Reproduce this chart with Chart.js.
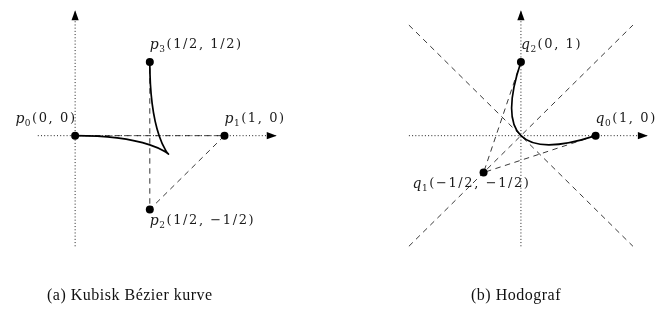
<!DOCTYPE html>
<html><head><meta charset="utf-8">
<script src="https://cdn.jsdelivr.net/npm/chart.js@4"></script>
<style>
html,body{margin:0;padding:0;background:#fff;}
#wrap{position:relative;width:658px;height:324px;overflow:hidden;}
canvas{position:absolute;left:0;top:0;}
.cap{position:absolute;top:286px;font-family:"Liberation Serif",serif;font-size:16px;letter-spacing:0.5px;color:#111;white-space:nowrap;}
</style></head><body>
<div id="wrap"><canvas id="c" width="658" height="324"></canvas>
<div class="cap" style="left:47px">(a) Kubisk Bézier kurve</div>
<div class="cap" style="left:471px">(b) Hodograf</div>
</div>
<script>
// ---- data ----
const bezierNames = ['p', 'p', 'p', 'p'];
const bezierSubs = ['0', '1', '2', '3'];
const bezierX = [0, 1, 0.5, 0.5];
const bezierY = [0, 0, -0.5, 0.5];
const bezierCoordText = ['(0, 0)', '(1, 0)', '(1/2, \u22121/2)', '(1/2, 1/2)'];

const hodoNames = ['q', 'q', 'q'];
const hodoSubs = ['0', '1', '2'];
const hodoX = [1, -0.5, 0];
const hodoY = [0, -0.5, 1];
const hodoCoordText = ['(1, 0)', '(\u22121/2, \u22121/2)', '(0, 1)'];

const leftAxisX = [-0.25, 1.35];
const leftAxisY = [-0.75, 0.85];
const rightAxisX = [-1.5, 1.7];
const rightAxisY = [-1.5, 1.7];
const diagRange = [-1.5, 1.5];

// ---- styles / placement (not data) ----
const bezierAnchor = ['aboveLeft', 'aboveRight', 'belowRight', 'aboveRight'];
const hodoAnchor = ['aboveRight', 'belowCenter', 'aboveRight'];

const pts = (xs, ys) => xs.map((x, i) => ({x: x, y: ys[i]}));
const DOT = [1, 2.2];
const DASH = [5.5, 4.5];
const lineDS = (data, xID, yID, dash, color) => ({
  data: data, xAxisID: xID, yAxisID: yID, showLine: true, pointRadius: 0,
  borderColor: color, borderWidth: 1, borderDash: dash, fill: false
});

const datasets = [
  lineDS([{x: leftAxisX[0], y: 0}, {x: leftAxisX[1], y: 0}], 'xL', 'yL', DOT, '#222'),
  lineDS([{x: 0, y: leftAxisY[0]}, {x: 0, y: leftAxisY[1]}], 'xL', 'yL', DOT, '#222'),
  lineDS(pts(bezierX, bezierY), 'xL', 'yL', DASH, '#3a3a3a'),
  lineDS([{x: rightAxisX[0], y: 0}, {x: rightAxisX[1], y: 0}], 'xR', 'yR', DOT, '#222'),
  lineDS([{x: 0, y: rightAxisY[0]}, {x: 0, y: rightAxisY[1]}], 'xR', 'yR', DOT, '#222'),
  lineDS([{x: diagRange[0], y: diagRange[0]}, {x: diagRange[1], y: diagRange[1]}], 'xR', 'yR', DASH, '#3a3a3a'),
  lineDS([{x: diagRange[0], y: -diagRange[0]}, {x: diagRange[1], y: -diagRange[1]}], 'xR', 'yR', DASH, '#3a3a3a'),
  lineDS(pts(hodoX, hodoY), 'xR', 'yR', DASH, '#3a3a3a'),
  {data: pts(bezierX, bezierY), xAxisID: 'xL', yAxisID: 'yL', showLine: false,
   pointRadius: 4, pointBackgroundColor: '#000', pointBorderWidth: 0, order: -1},
  {data: pts(hodoX, hodoY), xAxisID: 'xR', yAxisID: 'yR', showLine: false,
   pointRadius: 4, pointBackgroundColor: '#000', pointBorderWidth: 0, order: -1}
];

function px(chart, xs, ys, xID, yID) {
  const sx = chart.scales[xID], sy = chart.scales[yID];
  return xs.map((x, i) => [sx.getPixelForValue(x), sy.getPixelForValue(ys[i])]);
}

const curvePlugin = {
  id: 'curves',
  afterDatasetsDraw(chart) {
    const ctx = chart.ctx;
    ctx.save();
    ctx.strokeStyle = '#000';
    ctx.lineWidth = 1.7;
    const P = px(chart, bezierX, bezierY, 'xL', 'yL');
    ctx.beginPath();
    ctx.moveTo(P[0][0], P[0][1]);
    ctx.bezierCurveTo(P[1][0], P[1][1], P[2][0], P[2][1], P[3][0], P[3][1]);
    ctx.stroke();
    const Q = px(chart, hodoX, hodoY, 'xR', 'yR');
    ctx.beginPath();
    ctx.moveTo(Q[0][0], Q[0][1]);
    ctx.quadraticCurveTo(Q[1][0], Q[1][1], Q[2][0], Q[2][1]);
    ctx.stroke();
    ctx.restore();
  }
};

function arrow(ctx, x, y, dir) {
  const L = 10, W = 3.6;
  ctx.beginPath();
  if (dir === 'right') {
    ctx.moveTo(x, y); ctx.lineTo(x - L, y - W); ctx.lineTo(x - L, y + W);
  } else {
    ctx.moveTo(x, y); ctx.lineTo(x - W, y + L); ctx.lineTo(x + W, y + L);
  }
  ctx.closePath();
  ctx.fill();
}

const arrowPlugin = {
  id: 'arrows',
  afterDatasetsDraw(chart) {
    const ctx = chart.ctx;
    ctx.save();
    ctx.fillStyle = '#000';
    const xL = chart.scales.xL, yL = chart.scales.yL, xR = chart.scales.xR, yR = chart.scales.yR;
    arrow(ctx, xL.getPixelForValue(leftAxisX[1]), yL.getPixelForValue(0), 'right');
    arrow(ctx, xL.getPixelForValue(0), yL.getPixelForValue(leftAxisY[1]), 'up');
    arrow(ctx, xR.getPixelForValue(rightAxisX[1]), yR.getPixelForValue(0), 'right');
    arrow(ctx, xR.getPixelForValue(0), yR.getPixelForValue(rightAxisY[1]), 'up');
    ctx.restore();
  }
};

const F_MAIN = 'italic 14px "DejaVu Serif", serif';
const F_SUB = '9px "DejaVu Serif", serif';
const F_COORD = '13px "DejaVu Serif", serif';
const COORD_SPACING = '1.6px';

function drawLabel(ctx, x, y, name, sub, coord, anchor) {
  ctx.letterSpacing = '0px';
  ctx.font = F_MAIN; const w1 = ctx.measureText(name).width + 0.5;
  ctx.font = F_SUB; const w2 = ctx.measureText(sub).width + 1.5;
  ctx.font = F_COORD; ctx.letterSpacing = COORD_SPACING; const w3 = ctx.measureText(coord).width;
  ctx.letterSpacing = '0px';
  const w = w1 + w2 + w3;
  let sx, by;
  if (anchor === 'aboveLeft') { sx = x - w + 1.5; by = y - 13; }
  else if (anchor === 'aboveRight') { sx = x; by = y - 13; }
  else if (anchor === 'belowRight') { sx = x; by = y + 16; }
  else { sx = x - w / 2 - 12; by = y + 15; }
  ctx.textBaseline = 'alphabetic';
  ctx.textAlign = 'left';
  ctx.font = F_MAIN; ctx.fillText(name, sx, by);
  ctx.font = F_SUB; ctx.fillText(sub, sx + w1, by + 3);
  ctx.font = F_COORD; ctx.letterSpacing = COORD_SPACING; ctx.fillText(coord, sx + w1 + w2, by - 1);
  ctx.letterSpacing = '0px';
}

const labelPlugin = {
  id: 'labels',
  afterDraw(chart) {
    const ctx = chart.ctx;
    ctx.save();
    ctx.fillStyle = '#1a1a1a';
    const P = px(chart, bezierX, bezierY, 'xL', 'yL');
    P.forEach((p, i) => drawLabel(ctx, p[0], p[1], bezierNames[i], bezierSubs[i], bezierCoordText[i], bezierAnchor[i]));
    const Q = px(chart, hodoX, hodoY, 'xR', 'yR');
    Q.forEach((p, i) => drawLabel(ctx, p[0], p[1], hodoNames[i], hodoSubs[i], hodoCoordText[i], hodoAnchor[i]));
    ctx.restore();
  }
};

new Chart(document.getElementById('c'), {
  type: 'scatter',
  data: {datasets: datasets},
  options: {
    responsive: false,
    animation: false,
    layout: {padding: 0},
    clip: false,
    plugins: {legend: {display: false}, tooltip: {enabled: false}},
    scales: {
      xL: {type: 'linear', axis: 'x', display: false, min: -0.4762, max: 3.8757},
      yL: {type: 'linear', axis: 'y', display: false, min: -1.25, max: 0.8929},
      xR: {type: 'linear', axis: 'x', display: false, min: -6.922, max: 1.782},
      yR: {type: 'linear', axis: 'y', display: false, min: -2.5, max: 1.7857}
    }
  },
  plugins: [curvePlugin, arrowPlugin, labelPlugin]
});
</script>
</body></html>
